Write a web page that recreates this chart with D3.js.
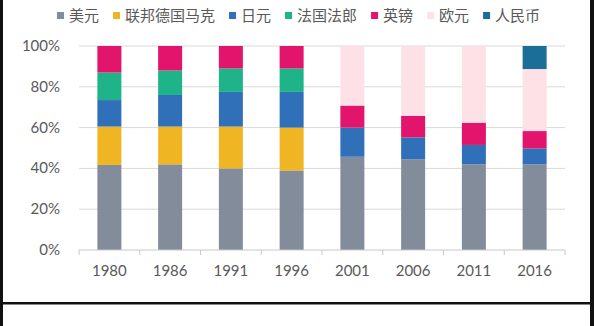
<!DOCTYPE html>
<html><head><meta charset="utf-8">
<script src="https://cdnjs.cloudflare.com/ajax/libs/d3/7.8.5/d3.min.js"></script>
<style>
html,body{margin:0;padding:0;background:#fff;}
svg{display:block;}
</style></head>
<body>
<svg id="c" width="594" height="326"></svg>
<script>
const years = ["1980","1986","1991","1996","2001","2006","2011","2016"];
const seriesNames = ["美元","联邦德国马克","日元","法国法郎","英镑","欧元","人民币"];
const usd = [41.7, 42, 40, 39, 45.7, 44.4, 42, 42];
const dem = [18.8, 18.5, 20.5, 21, 0, 0, 0, 0];
const jpy = [13, 15.5, 17, 17.5, 14.3, 10.8, 9.5, 7.8];
const frf = [13.5, 12, 11.5, 11.5, 0, 0, 0, 0];
const gbp = [13, 12, 11, 11, 10.8, 10.6, 10.9, 8.5];
const eur = [0, 0, 0, 0, 29.2, 34.2, 37.6, 30.4];
const cny = [0, 0, 0, 0, 0, 0, 0, 11.3];
const yTicks = [0, 20, 40, 60, 80, 100];
const colors = ["#838c9a","#f0b523","#3070b9","#1fb38a","#e3146b","#fde1e6","#1a6e97"];

const seriesVals = [usd, dem, jpy, frf, gbp, eur, cny];
const rows = years.map((y,i)=>{const o={year:y}; seriesNames.forEach((n,k)=>o[n]=seriesVals[k][i]); return o;});
const stack = d3.stack().keys(seriesNames)(rows);

const svg = d3.select("#c");
const textColor = "#595959";
// frame
svg.append("rect").attr("x",0).attr("y",0).attr("width",594).attr("height",326).attr("fill","#fff");
svg.append("rect").attr("x",0).attr("y",0).attr("width",3).attr("height",326).attr("fill","#111");
svg.append("rect").attr("x",590).attr("y",0).attr("width",4).attr("height",326).attr("fill","#111");
svg.append("rect").attr("x",3).attr("y",302).attr("width",587).attr("height",2.5).attr("fill","#111");

const x = d3.scaleBand().domain(years).range([79,565]).paddingInner(0.605).paddingOuter(0.3025);
const y = d3.scaleLinear().domain([0,100]).range([250,46]);

// gridlines
svg.append("g").selectAll("line").data(yTicks.filter(t=>t>0)).join("line")
  .attr("x1",79).attr("x2",565).attr("y1",d=>y(d)).attr("y2",d=>y(d))
  .attr("stroke","#d9d9d9").attr("stroke-width",1);

// bars
svg.append("g").selectAll("g").data(stack).join("g")
  .attr("fill",(d,i)=>colors[i])
  .selectAll("rect").data(d=>d).join("rect")
  .attr("x",d=>x(d.data.year)).attr("width",x.bandwidth())
  .attr("y",d=>y(d[1])).attr("height",d=>Math.max(0,y(d[0])-y(d[1])));

// x axis
const xAxisG = svg.append("g").attr("transform","translate(0,250)");
xAxisG.append("line").attr("x1",79).attr("x2",565).attr("stroke","#c8c8c8");
const bounds = d3.range(years.length+1).map(i=>79 + i*x.step());
xAxisG.selectAll("line.tk").data(bounds).join("line").attr("class","tk")
  .attr("x1",d=>d).attr("x2",d=>d).attr("y1",0).attr("y2",5).attr("stroke","#c8c8c8");
xAxisG.selectAll("text").data(years).join("text")
  .attr("x",d=>x(d)+x.bandwidth()/2).attr("y",26)
  .attr("text-anchor","middle").attr("fill",textColor)
  .attr("font-family","Lato, 'Noto Sans', sans-serif").attr("font-size",15).text(d=>d);

// y labels
svg.append("g").selectAll("text").data(yTicks).join("text")
  .attr("x",60).attr("y",d=>y(d)+5).attr("text-anchor","end").attr("fill",textColor)
  .attr("font-family","Lato, 'Noto Sans', sans-serif").attr("font-size",15).text(d=>d+"%");

// legend
const lg = svg.append("g");
let lx = 57;
seriesNames.forEach((n,i)=>{
  lg.append("rect").attr("x",lx).attr("y",12).attr("width",7).attr("height",7).attr("fill",colors[i]);
  const t = lg.append("text").attr("x",lx+12).attr("y",21).attr("fill",textColor)
    .attr("font-family","'Noto Sans CJK SC', sans-serif").attr("font-size",15).text(n);
  lx += 12 + t.node().getComputedTextLength() + 14;
});
</script>
</body></html>
